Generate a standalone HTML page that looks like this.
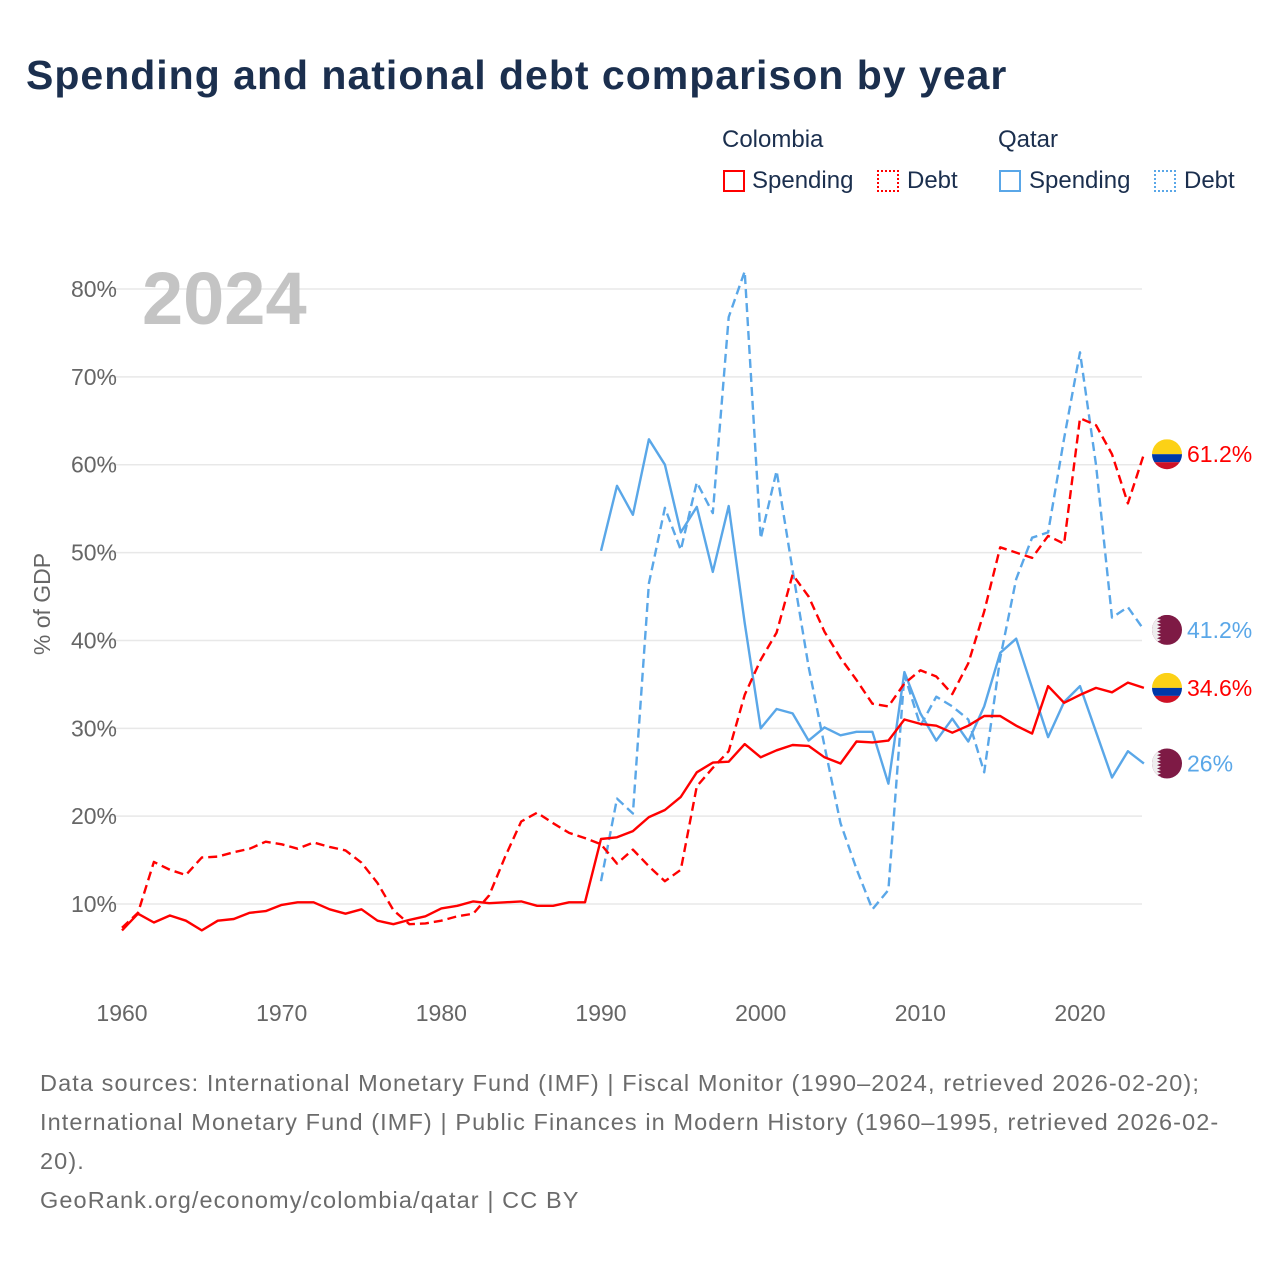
<!DOCTYPE html>
<html><head><meta charset="utf-8"><style>
body{margin:0;background:#fff;font-family:"Liberation Sans",sans-serif}
#wrap{position:relative;width:1280px;height:1280px;overflow:hidden}
h1{position:absolute;left:26px;top:52px;margin:0;font-size:41px;font-weight:bold;color:#1b2f4e;letter-spacing:1px}
.t{position:absolute;font-size:24px;color:#1b2f4e;white-space:nowrap}
.box{position:absolute;width:22px;height:22px;box-sizing:border-box}
.foot{position:absolute;left:40px;font-size:23.5px;color:#6b6b6b;white-space:nowrap;letter-spacing:1.1px}
</style></head><body><div id="wrap">
<h1>Spending and national debt comparison by year</h1>
<div class="t" style="left:722px;top:126px">Colombia</div>
<div class="t" style="left:998px;top:126px">Qatar</div>
<div class="box" style="left:723px;top:170px;border:2px solid #f00"></div>
<div class="t" style="left:752px;top:167px">Spending</div>
<div class="box" style="left:877px;top:170px;border:2px dotted #f00"></div>
<div class="t" style="left:907px;top:167px">Debt</div>
<div class="box" style="left:999px;top:170px;border:2px solid #5aa7e8"></div>
<div class="t" style="left:1029px;top:167px">Spending</div>
<div class="box" style="left:1154px;top:170px;border:2px dotted #5aa7e8"></div>
<div class="t" style="left:1184px;top:167px">Debt</div>
<svg id="chart" width="1280" height="1280" style="position:absolute;left:0;top:0"></svg>
<div class="foot" style="top:1070px">Data sources: International Monetary Fund (IMF) | Fiscal Monitor (1990–2024, retrieved 2026-02-20);</div>
<div class="foot" style="top:1109px">International Monetary Fund (IMF) | Public Finances in Modern History (1960–1995, retrieved 2026-02-</div>
<div class="foot" style="top:1148px">20).</div>
<div class="foot" style="top:1187px">GeoRank.org/economy/colombia/qatar | CC BY</div>
</div>
<script>
const colSpendYears0 = 1960;
const colSpending = [7.0,8.9,7.9,8.7,8.1,7.0,8.1,8.3,9.0,9.2,9.9,10.2,10.2,9.4,8.9,9.4,8.1,7.7,8.2,8.6,9.5,9.8,10.3,10.1,10.2,10.3,9.8,9.8,10.2,10.2,17.4,17.6,18.3,19.9,20.7,22.2,25.0,26.1,26.2,28.2,26.7,27.5,28.1,28.0,26.7,26.0,28.5,28.4,28.6,31.0,30.5,30.3,29.5,30.3,31.4,31.4,30.3,29.4,34.8,32.9,33.8,34.6,34.1,35.2,34.6];
const colDebt = [7.3,9.0,14.8,13.9,13.3,15.3,15.4,15.9,16.3,17.1,16.8,16.3,17.0,16.5,16.1,14.7,12.4,9.3,7.7,7.8,8.1,8.6,8.9,11.0,15.4,19.4,20.4,19.2,18.1,17.5,16.8,14.6,16.2,14.3,12.6,13.9,23.4,25.5,27.4,33.8,37.8,40.9,47.5,45.0,41.0,38.0,35.5,32.8,32.5,35.1,36.6,35.9,33.9,37.4,43.3,50.6,50.0,49.4,51.9,51.0,65.3,64.5,61.2,55.6,61.2];
const qatStartYear = 1990;
const qatSpending = [50.2,57.6,54.3,62.9,60.0,52.3,55.2,47.8,55.3,42.0,30.0,32.2,31.7,28.6,30.1,29.2,29.6,29.6,23.7,36.4,31.7,28.6,31.1,28.5,32.5,38.6,40.2,34.6,29.0,33.0,34.8,29.6,24.4,27.4,26.0];
const qatDebt = [12.6,22.0,20.3,46.5,55.1,50.3,58.0,54.5,76.8,82.0,51.6,59.3,48.0,37.0,28.0,19.2,14.0,9.4,11.6,36.1,30.3,33.6,32.5,31.0,25.0,38.0,47.0,51.7,52.3,63.0,72.8,60.0,42.6,43.8,41.2];
const yTicks = [10,20,30,40,50,60,70,80];
const xTicks = [1960,1970,1980,1990,2000,2010,2020];

const NS='http://www.w3.org/2000/svg';
const svg=document.getElementById('chart');
const X=y=>122+(y-1960)*15.967;
const Y=v=>991.9-v*8.786;
function mk(tag,attrs,parent){const e=document.createElementNS(NS,tag);for(const k in attrs)e.setAttribute(k,attrs[k]);(parent||svg).appendChild(e);return e;}
yTicks.forEach(v=>{
  const l=mk('line',{x1:98,x2:1142,y1:Y(v),y2:Y(v),stroke:'#e8e8e8','stroke-width':1.5});
  
  
  const t=mk('text',{x:117,y:Y(v)+8,'text-anchor':'end','font-size':23,fill:'#666','font-family':'Liberation Sans, sans-serif'});
  t.textContent=v+'%';
  
  
});
xTicks.forEach(yr=>{
  const t=mk('text',{x:X(yr),y:1021,'text-anchor':'middle','font-size':23,fill:'#666','font-family':'Liberation Sans, sans-serif'});
  t.textContent=yr;
  
  
});
const yt=mk('text',{x:0,y:0,transform:'translate(50,604) rotate(-90)','text-anchor':'middle','font-size':23,fill:'#666','font-family':'Liberation Sans, sans-serif'});
yt.textContent='% of GDP';


const yr=mk('text',{x:142,y:324,'font-size':74,'font-weight':'bold',fill:'#c4c4c4','font-family':'Liberation Sans, sans-serif'});
yr.textContent='2024';


function line(data,start,color,dash,name){
  const pts=data.map((v,i)=>X(start+i).toFixed(1)+','+Y(v).toFixed(1)).join(' ');
  const p=mk('polyline',{points:pts,fill:'none',stroke:color,'stroke-width':2.4,'stroke-linejoin':'round'});
  if(dash)p.setAttribute('stroke-dasharray','9,5');
  
  
}
line(qatDebt,qatStartYear,'#5aa7e8',true,'qatar-debt-line');
line(qatSpending,qatStartYear,'#5aa7e8',false,'qatar-spending-line');
line(colDebt,colSpendYears0,'#f00',true,'colombia-debt-line');
line(colSpending,colSpendYears0,'#f00',false,'colombia-spending-line');
function flag(v,country,color,name){
  const cy=Y(v),cx=1167;
  const g=mk('g',{});
  
  
  const id='c'+name;
  const cp=mk('clipPath',{id:id},g);mk('circle',{cx:cx,cy:cy,r:15},cp);
  const gg=mk('g',{'clip-path':'url(#'+id+')'},g);
  if(country==='co'){
    mk('rect',{x:cx-15,y:cy-15,width:30,height:15,fill:'#fcd116'},gg);
    mk('rect',{x:cx-15,y:cy,width:30,height:8,fill:'#0038a8'},gg);
    mk('rect',{x:cx-15,y:cy+8,width:30,height:8,fill:'#ce1126'},gg);
  }else{
    mk('rect',{x:cx-15,y:cy-15,width:30,height:30,fill:'#7e1a45'},gg);
    let d='M'+(cx-15)+','+(cy-15)+' L'+(cx-10)+','+(cy-15);
    for(let k=0;k<9;k++){const y0=cy-15+k*30/9;d+=' L'+(cx-6)+','+(y0+30/18)+' L'+(cx-10)+','+(y0+30/9);}
    d+=' L'+(cx-15)+','+(cy+15)+'Z';
    mk('path',{d:d,fill:'#eee'},gg);
  }
  const t=mk('text',{x:1187,y:cy+8,'font-size':23,fill:color,'font-family':'Liberation Sans, sans-serif'});
  t.textContent=(Math.round(v*10)/10)+'%';
  
  
}
flag(colDebt[colDebt.length-1],'co','#f00','colombia-debt');
flag(qatDebt[qatDebt.length-1],'qa','#5aa7e8','qatar-debt');
flag(colSpending[colSpending.length-1],'co','#f00','colombia-spending');
flag(qatSpending[qatSpending.length-1],'qa','#5aa7e8','qatar-spending');
</script>
</body></html>
